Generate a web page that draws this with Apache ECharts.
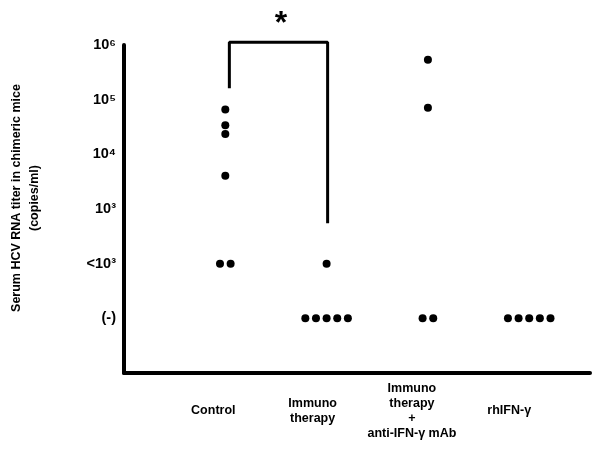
<!DOCTYPE html>
<html>
<head>
<meta charset="utf-8">
<script src="https://cdn.jsdelivr.net/npm/echarts@6/dist/echarts.min.js"></script>
<style>
html,body{margin:0;padding:0;background:#fff;}
#chart{width:593px;height:463px;}
</style>
</head>
<body>
<div id="chart"></div>
<script>
// Categories (x positions 1..4)
var categories = ['Control', 'Immuno\ntherapy', 'Immuno\ntherapy\n+\nanti-IFN-γ mAb', 'rhIFN-γ'];
// Y tick labels: level 1 = (-), 2 = <10^3, 3..6 = log10 titer
var yTickLabels = {1: '(-)', 2: '<10³', 3: '10³', 4: '10⁴', 5: '10⁵', 6: '10⁶'};
// Titer levels (log10 copies/ml; 2 = below 10^3, 1 = not detected)
var control = [4.82, 4.53, 4.37, 3.61, 2, 2];
var immunotherapy = [2, 1, 1, 1, 1, 1];
var immunoAntiIFN = [5.73, 4.85, 1, 1];
var rhIFN = [1, 1, 1, 1, 1];
// Significance bracket between Control and Immunotherapy
var bracketX = [1.04, 2.01];
var bracketY = [5.21, 6.05, 2.74];
var starPos = [1.55, 6.38];

var groups = [control, immunotherapy, immunoAntiIFN, rhIFN];
var jitter = 0.105;
var points = [];
groups.forEach(function (vals, gi) {
  var counts = {};
  vals.forEach(function (v) { counts[v] = (counts[v] || 0) + 1; });
  var seen = {};
  vals.forEach(function (v) {
    var n = counts[v];
    var k = seen[v] || 0;
    seen[v] = k + 1;
    points.push([gi + 1 + (k - (n - 1) / 2) * jitter, v]);
  });
});

var chart = echarts.init(document.getElementById('chart'));
var font = 'Liberation Sans, Arial, sans-serif';
var labelStyle = {color: '#000', fontFamily: font, fontWeight: 'bold', fontSize: 12.5, lineHeight: 15};
var labelShift = [24, 28, 32, 40];
var rich = {};
labelShift.forEach(function (s, i) {
  rich['c' + i] = Object.assign({padding: [0, s, 0, 0], align: 'center'}, labelStyle);
});
chart.setOption({
  animation: false,
  backgroundColor: '#fff',
  grid: {left: 121, right: 1, top: 45, bottom: 90},
  xAxis: {
    type: 'value', min: 0, max: 4.6, interval: 1,
    axisLine: {show: true, lineStyle: {color: '#000', width: 4}},
    axisTick: {show: false},
    splitLine: {show: false},
    axisLabel: {
      formatter: function (v) {
        if (Math.abs(v - Math.round(v)) < 1e-6 && v >= 1 && v <= 4) {
          return categories[v - 1].split('\n').map(function (t) { return '{c' + (v - 1) + '|' + t + '}'; }).join('\n');
        }
        return '';
      },
      rich: rich,
      color: '#000', fontFamily: font, fontWeight: 'bold', fontSize: 12.5,
      lineHeight: 15, margin: 38, verticalAlign: 'middle', align: 'center'
    }
  },
  yAxis: {
    type: 'value', min: 0, max: 6, interval: 1,
    name: 'Serum HCV RNA titer in chimeric mice\n(copies/ml)',
    nameLocation: 'middle', nameRotate: 90, nameGap: 80,
    nameTextStyle: {color: '#000', fontFamily: font, fontWeight: 'bold', fontSize: 12.5, lineHeight: 18, padding: [0, 0, 0, 22]},
    axisLine: {show: true, lineStyle: {color: '#000', width: 4}},
    axisTick: {show: false},
    splitLine: {show: false},
    axisLabel: {
      formatter: function (v) { return yTickLabels[v] || ''; },
      color: '#000', fontFamily: font, fontWeight: 'bold', fontSize: 14.5, margin: 8
    }
  },
  series: [
    {
      type: 'scatter', data: points, symbol: 'circle', symbolSize: 8,
      itemStyle: {color: '#000', opacity: 1}
    },
    {
      type: 'line', clip: false, symbol: 'none',
      data: [[bracketX[0], bracketY[0]], [bracketX[0], bracketY[1]], [bracketX[1], bracketY[1]], [bracketX[1], bracketY[2]]],
      lineStyle: {color: '#000', width: 3}
    },
    {
      type: 'scatter', clip: false, symbolSize: 0, data: [starPos],
      itemStyle: {opacity: 1},
      label: {show: true, position: 'inside', formatter: '*', color: '#000', opacity: 1, fontFamily: font, fontWeight: 'bold', fontSize: 32}
    }
  ]
});
</script>
</body>
</html>
